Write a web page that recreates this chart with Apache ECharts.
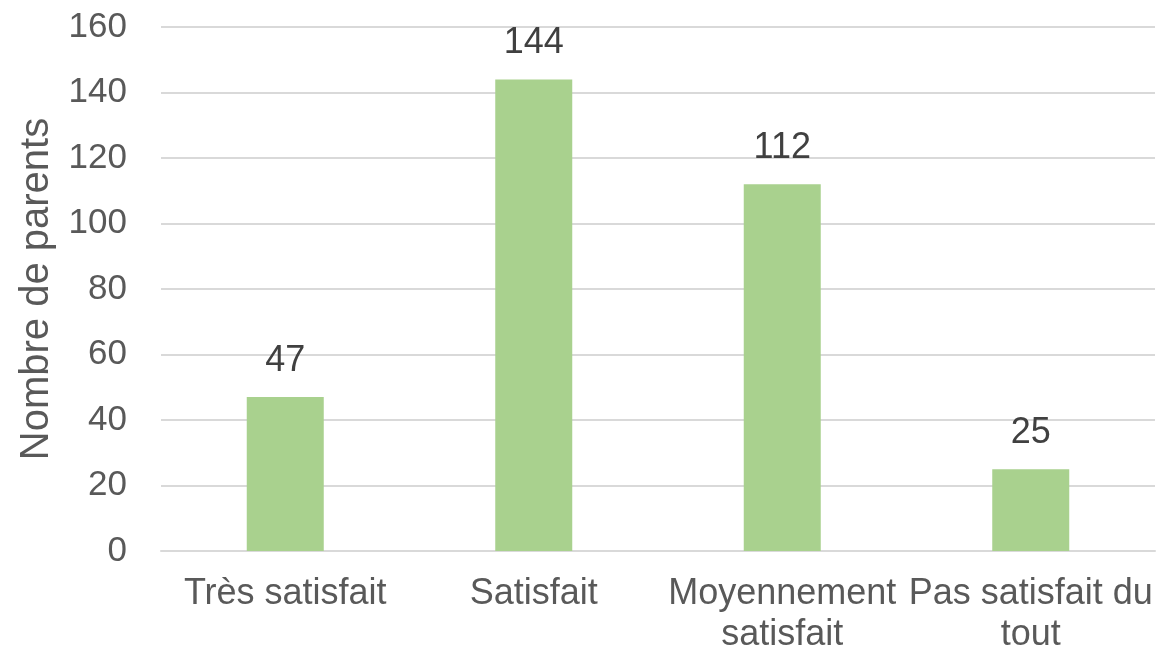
<!DOCTYPE html>
<html>
<head>
<meta charset="utf-8">
<script src="https://cdn.jsdelivr.net/npm/echarts@6/dist/echarts.min.js"></script>
<style>
  html, body { margin: 0; padding: 0; background: #fff; }
  #chart { width: 1158px; height: 653px; }
</style>
</head>
<body>
<div id="chart"></div>
<script>
// données
var categories = ['Très satisfait', 'Satisfait', 'Moyennement\nsatisfait', 'Pas satisfait du\ntout'];
var valeurs = [47, 144, 112, 25];
var yTicks = { min: 0, max: 160, interval: 20 };

var myChart = echarts.init(document.getElementById('chart'), null, { renderer: 'canvas' });

var option = {
  animation: false,
  textStyle: { fontFamily: 'Liberation Sans, Arial, sans-serif' },
  grid: { left: 161, right: 3, top: 27, bottom: 102, outerBoundsMode: 'none', containLabel: false },
  xAxis: {
    type: 'category',
    data: categories,
    axisLine: { lineStyle: { color: '#d9d9d9', width: 2 } },
    axisTick: { show: false },
    axisLabel: { color: '#595959', fontSize: 36, margin: 23, lineHeight: 41, interval: 0 }
  },
  yAxis: {
    type: 'value',
    min: yTicks.min, max: yTicks.max, interval: yTicks.interval,
    name: 'Nombre de parents',
    nameLocation: 'middle',
    nameGap: 104,
    nameTextStyle: { color: '#595959', fontSize: 40 },
    axisLine: { show: false },
    axisTick: { show: false },
    axisLabel: { color: '#595959', fontSize: 35, margin: 34 },
    splitLine: { lineStyle: { color: '#d9d9d9', width: 2 } }
  },
  series: [{
    type: 'bar',
    data: valeurs,
    barWidth: 77,
    itemStyle: { color: '#a9d18e' },
    label: { show: true, position: 'top', distance: 18, color: '#404040', fontSize: 36 }
  }]
};

myChart.setOption(option);
</script>
</body>
</html>
